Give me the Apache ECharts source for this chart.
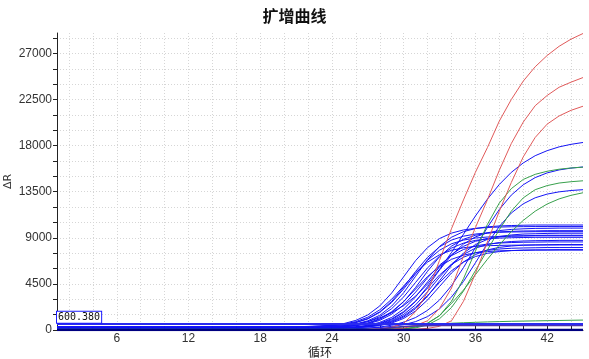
<!DOCTYPE html>
<html><head><meta charset="utf-8">
<script src="https://cdn.jsdelivr.net/npm/echarts@6/dist/echarts.min.js"></script>
<style>html,body{margin:0;padding:0;background:#fff}#c{width:589px;height:359px}</style>
</head><body><div id="c"></div>
<script>
const cycles=[1,2,3,4,5,6,7,8,9,10,11,12,13,14,15,16,17,18,19,20,21,22,23,24,25,26,27,28,29,30,31,32,33,34,35,36,37,38,39,40,41,42,43,44,45];
const xTickValues=[2,4,6,8,10,12,14,16,18,20,22,24,26,28,30,32,34,36,38,40,42,44];
const xLabelValues=[6,12,18,24,30,36,42];
const yTickValues=[0,1500,3000,4500,6000,7500,9000,10500,12000,13500,15000,16500,18000,19500,21000,22500,24000,25500,27000,28500];
const yLabelValues=[0,4500,9000,13500,18000,22500,27000];
const threshold=600.38;
const thresholdText='600.380';

// blue curves
const b1=[310,310,310,310,310,310,310,310,310,310, 310,310,310,310,310,310,310,310,310, 310,320,350,390,480,630,940,1470,2350,3620,5200,6780,8050,8930,9460,9770,9920,10010,10050,10080,10090,10100,10100,10100,10100,10100];
const b2=[300,300,300,300,300,300,300,300,300,300, 300,300,300,300,300,300,300,300,300, 310,320,340,370,440,570,820,1250,1970,3010,4300,5590,6630,7350,7780,8030,8160,8230,8260,8280,8290,8300,8300,8300,8300,8300];
const b3=[310,310,310,310,310,310,310,310,310,310, 310,310,310,310,310,310,310,310,310,310, 320,330,360,420,530,740,1120,1780,2800,4180,5720,7100,8120,8780,9160,9370,9480,9540,9570,9580,9600,9600,9600,9600,9600];
const b4=[260,260,260,260,260,260,260,260,260,260, 260,260,260,260,260,260,260,260,260,260, 260, 280,300,340,430,590,900,1440,2340,3640,5250,6860,8160,9060,9600,9910,10070,10160,10200,10230,10250,10250,10250,10250,10250];
const b5=[250,250,250,250,250,250,250,250,250,250, 250,250,250,250,250,250,250,250,250,250, 250, 270,290,330,410,550,820,1300,2090,3230,4650,6070,7210,8000,8480,8750,8890,8970,9010,9030,9050,9050,9050,9050,9050];
const b6=[200,200,200,200,200,200,200,200,200,200, 200,200,200,200,200,200,200,200,200,200, 200, 220,240,270,340,460,690,1100,1790,2780,4000,5220,6210,6900,7310,7540,7660,7730,7760,7780,7800,7800,7800,7800,7800];
const b7=[210,210,210,210,210,210,210,210,210,210, 210,210,210,210,210,210,210,210,210,210, 210, 220,230,260,310,410,600,940,1540,2460,3700,5100,6340,7260,7860,8210,8390,8490,8540,8570,8580,8600,8600,8600,8600];
const b8=[210,210,210,210,210,210,210,210,210,210, 210,210,210,210,210,210,210,210,210,210, 210, 220,230,260,320,440,650,1040,1710,2760,4160,5740,7150,8190,8860,9250,9460,9580,9630,9670,9680,9700,9700,9700,9700];
const b9=[160,160,160,160,160,160,160,160,160,160, 160,160,160,160,160,160,160,160,160,160, 160,160, 170,190,220,290,420,660,1090,1800,2830,4100,5370,6400,7110,7540,7780,7910,7980,8010,8030,8050,8050,8050,8050];
const b10=[160,160,160,160,160,160,160,160,160,160, 160,160,160,160,160,160,160,160,160,160, 160,160, 170,190,240,310,460,740,1230,2050,3240,4700,6170,7350,8170,8660,8940,9090,9170,9200,9230,9250,9250,9250,9250];
const b11=[160,160,160,160,160,160,160,160,160,160, 160,160,160,160,160,160,160,160,160,160, 160,160, 170,180,210,260,370,550,910,1520,2460,3740,5160,6440,7380,7990,8350,8540,8640,8690,8720,8730,8750,8750,8750];
const b12=[160,160,160,160,160,160,160,160,160,160, 160,160,160,160,160,160,160,160,160,160, 160,160, 170,180,220,280,400,610,1010,1710,2790,4240,5860,7310,8390,9090,9490,9710,9820,9880,9920,9930,9950,9950,9950];
const b13=[160,160,160,160,160,160,160,160,160,160, 160,160,160,160,160,160,160,160,160,160, 160,160, 160,180,200,250,340,510,830,1370,2220,3360,4640,5780,6630,7170,7490,7660,7750,7800,7820,7830,7850,7850,7850];
const b14=[160,160,160,160,160,160,160,160,160,160, 160,160,160,160,160,160,160,160,160,160, 160,160,160, 170,200,240,320,470,760,1260,2090,3300,4800,6300,7510,8340,8850,9130,9280,9370,9400,9430,9450,9450,9450];
const b15=[160,160,160,160,160,160,160,160,160,160, 160,160,160,160,160,160,160,160,160,160, 160,160,160, 170,190,230,300,430,680,1130,1860,2930,4250,5570,6640,7370,7820,8070,8200,8280,8310,8330,8350,8350,8350];
const b16=[310,310,310,310,310,310,310,310,310,310, 310,310,310,310,310,310,310,310,310,310, 320,330,360,420,520,720,1080,1720,2690,4010,5490,6810,7790,8420,8780,8980,9080,9140,9170,9180,9200,9200,9200,9200,9200];
const h1=[30,30,30,30,30,30,30,30,30,30, 30,30,30,30,30,30,30,30,30, 60,90,130,180,270,390,570,820,1190,1690,2390,3310,4490,5930,7570,9350,11130,12770,14210,15390,16310,17020,17510,17880,18130,18310];
const h2=[80,80,80,80,80,80,80,80,80,80, 80,80,80,80,80,80,80,80,80,80, 80,80,80,80,80, 110,180,290,470,760,1220,1920,2930,4330,6090,8050,10010,11770,13170,14180,14880,15340,15630,15810,15920];
const h3=[100,100,100,100,100,100,100,100,100,100, 100,100,100,100,100,100,100,100,100,100, 100,100,100,100,100, 140,180,240,350,520,820,1310,2070,3220,4740,6560,8440,10110,11420,12320,12910,13270,13490,13620,13700];
// green curves
const g1=[50,50,50,50,50,50,50,50,50,50, 50,50,50,50,50,50,50,50,50,50, 50,50,50,50,50,50,50,50, 60,120,280,640,1400,2800,5000,7700,10300,12400,13800,14700,15200,15500,15700,15820,15900];
const g2=[60,60,60,60,60,60,60,60,60,60, 60,60,60,60,60,60,60,60,60,60, 60,60,60,60,60,60,60,60,60, 100,200,500,1100,2200,3800,5800,7800,9800,11600,12900,13700,14100,14350,14480,14570];
const g3=[60,60,60,60,60,60,60,60,60,60, 60,60,60,60,60,60,60,60,60,60, 60,60,60,60,60,60,60,60,60, 100,300,680,1400,2600,3900,5400,6900,8300,9600,10700,11600,12300,12800,13150,13400];
const g4=[20,20,20,20,20,20,20,20,20,20, 20,20,20,20,20,20,20,20,20,20, 20,20,20,20,20,20,20, 50,150,300,420,520,600,660,710,750,790,820,850,870,890,910,930,950,970];
// red curves
const r1=[40,40,40,40,40,40,40,40,40,40, 40,40,40,40,40,40,40,40,40,40, 40,40,40,40,40,40, 60,110,270,650,1800,3700,6800,9900,12700,15400,17800,20400,22500,24300,25700,26800,27700,28400,28950];
const r2=[40,40,40,40,40,40,40,40,40,40, 40,40,40,40,40,40,40,40,40,40, 40,40,40,40,40,40,40,40, 80,180,450,900,2100,4100,7200,10000,12700,15600,18200,20300,21900,22900,23700,24200,24650];
const r3=[40,40,40,40,40,40,40,40,40,40, 40,40,40,40,40,40,40,40,40,40, 40,40,40,40,40,40,40,40,40,40, 80,160,360,900,2800,5500,8600,11600,14400,16900,18800,20100,20900,21450,21850];
// flat curves
const n1=[0,0,0,0,0,0,0,0,0,0, 0,0,0,0,0,0,0,0,0,0, 0,0,0,0,0,0,0,0,0,0, 0,0,0,0,0,0,0,0,0,0, 0,0,0,0,0];
const n2=[0,0,0,0,0,0,0,0,0,0, 0,0,0,0,0,0,0,0,0,0, 0,0,0,0,0,0,0, 100,250,350,400,420,430,430,430,430,430,430,430,430,430,430,430,430,430];

const blueCurves=[b1,b2,b3,b4,b5,b6,b7,b8,b9,b10,b11,b12,b13,b14,b15,b16,h1,h2,h3];
const greenCurves=[g1,g2,g3,g4];
const redCurves=[r1,r2,r3];

function mk(arr,color,width){
  return {type:'line',data:cycles.map((c,i)=>[c,arr[i]]),showSymbol:false,symbol:'none',silent:true,
    lineStyle:{color:color,width:width},itemStyle:{color:color},z:2};
}
const series=[];
blueCurves.forEach(a=>series.push(mk(a,'#1414f5',1)));
greenCurves.forEach(a=>series.push(mk(a,'#38a04c',1)));
redCurves.forEach(a=>series.push(mk(a,'#e05a5a',1)));
series.push(mk(n2,'#4b2fb0',1.5));
const base=mk(n1,'#000080',2.5);
base.markLine={silent:true,symbol:'none',animation:false,
  data:[{yAxis:threshold}],
  lineStyle:{color:'#2a2af0',width:2,type:'solid'},
  label:{show:true,position:'insideStartTop',distance:[0,1],formatter:thresholdText,color:'#111',
    backgroundColor:'#fff',borderColor:'#1a1aff',borderWidth:1,padding:[1,1,0,1],
    fontFamily:'DejaVu Sans Mono',fontSize:10}};
series.push(base);

const plain=v=>String(v);
const chart=echarts.init(document.getElementById('c'),null,{renderer:'canvas'});
chart.setOption({
  animation:false,
  backgroundColor:'#fff',
  title:{text:'扩增曲线',left:'center',top:3,textStyle:{fontFamily:'Noto Sans CJK SC',fontSize:16,fontWeight:'bold',color:'#111'}},
  grid:{left:57,right:6,top:33,bottom:29,containLabel:false,outerBoundsMode:'none'},
  xAxis:{type:'value',min:1,max:45,
    name:'循环',nameLocation:'middle',nameGap:16,nameMoveOverlap:false,nameTextStyle:{fontFamily:'Noto Sans CJK SC',fontSize:12,color:'#222'},
    axisLine:{show:true,onZero:false,lineStyle:{color:'#222',width:1}},
    axisTick:{show:true,inside:true,length:4,customValues:xTickValues,lineStyle:{color:'#222'}},
    axisLabel:{customValues:xLabelValues,formatter:plain,fontFamily:'Liberation Sans',fontSize:12,color:'#333',margin:3},
    splitLine:{show:true,lineStyle:{color:'#d6d6d6',type:[1,2],width:1}}},
  yAxis:{type:'value',min:0,max:29000,
    name:'ΔR',nameLocation:'middle',nameRotate:90,nameGap:43,nameMoveOverlap:false,nameTextStyle:{fontFamily:'DejaVu Sans',fontSize:11,color:'#333'},
    axisLine:{show:true,onZero:false,lineStyle:{color:'#222',width:1}},
    axisTick:{show:true,inside:false,length:4,customValues:yTickValues,lineStyle:{color:'#222'}},
    axisLabel:{customValues:yLabelValues,formatter:plain,fontFamily:'Liberation Sans',fontSize:12,color:'#333',margin:5},
    splitLine:{show:true,lineStyle:{color:'#d6d6d6',type:[1,2],width:1}}},
  series:series
});
</script></body></html>
